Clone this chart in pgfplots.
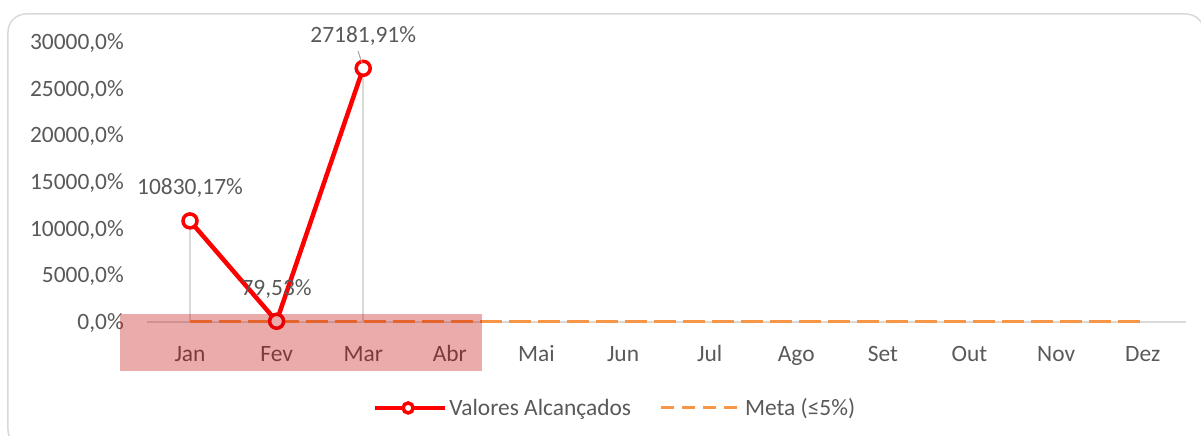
\documentclass[border=0pt]{standalone}
\usepackage{pgfplots}
\pgfplotsset{compat=1.18}
\usepackage{fontspec}
\setmainfont{Carlito}
\definecolor{txt}{HTML}{595959}
\definecolor{lgray}{HTML}{D9D9D9}
\definecolor{meta}{HTML}{F79646}
\definecolor{hl}{HTML}{C00000}
\newcommand{\cf}{\fontsize{23.5}{28}\selectfont}

\begin{document}
\begin{tikzpicture}
% frame in picture pixels (y down)
\begin{scope}[shift={(-146.7bp,322bp)},x=1bp,y=-1bp]
  \useasboundingbox (0,0) rectangle (1201,436);
  \begin{scope}
    \clip (0,0) rectangle (1201,436);
    \draw[lgray, line width=1.5bp, rounded corners=18bp] (8,14) rectangle (1204,448);
  \end{scope}
\end{scope}

\begin{axis}[
  scale only axis, width=1039.3bp, height=280bp,
  xmin=-0.5, xmax=11.5, ymin=0, ymax=30000,
  clip=false,
  scaled y ticks=false,
  axis x line*=bottom, axis y line*=left,
  x axis line style={lgray, line width=1.5bp},
  y axis line style={draw=none},
  tick style={draw=none}, major tick length=0pt,
  xtick={0,...,11},
  xticklabels={Jan,Fev,Mar,Abr,Mai,Jun,Jul,Ago,Set,Out,Nov,Dez},
  ytick={0,5000,10000,15000,20000,25000,30000},
  yticklabels={{0,0\%},{5000,0\%},{10000,0\%},{15000,0\%},{20000,0\%},{25000,0\%},{30000,0\%}},
  /pgf/number format/assume math mode=true,
  tick label style={font=\cf, text=txt},
  xticklabel style={anchor=base, inner sep=0pt, yshift=-39.5bp},
  yticklabel style={anchor=base east, inner sep=0pt, xshift=-22.7bp, yshift=-7.4bp},
  reverse legend,
  legend style={at={(0.4506,-0.307)}, anchor=center, draw=none, fill=none,
    legend columns=2, font=\cf, text=txt,
    /tikz/every even column/.append style={column sep=26bp}},
]
% drop lines
\addplot[lgray, line width=1.5bp, ycomb, no marks, forget plot]
  coordinates {(0,10830.17) (1,79.53) (2,27181.91)};
% meta
\addplot[meta, line width=3bp, dash pattern=on 22bp off 7bp, no marks,
  legend image code/.code={
    \draw[meta, line width=3bp, dash pattern=on 13bp off 8bp] (0bp,0bp) -- (81bp,0bp);}]
  coordinates {(0,5) (1,5) (2,5) (3,5) (4,5) (5,5) (6,5) (7,5) (8,5) (9,5) (10,5) (11,5)};
\addlegendentry{Meta (≤5\%)}
% values
\addplot[red, line width=4.5bp, mark=*, mark size=7bp,
  mark options={fill=white, draw=red, line width=3.5bp},
  nodes near coords, point meta=explicit symbolic,
  every node near coord/.append style={font=\cf, text=txt, anchor=base, inner sep=0pt, yshift=26bp},
  legend image code/.code={
    \draw[red, line width=4.5bp] (0bp,0bp) -- (70bp,0bp);
    \draw[red, line width=3.5bp, fill=white] (33bp,0bp) circle (5bp);}]
  coordinates {(0,10830.17) [10830,17\%] (1,79.53) [79,53\%] (2,27181.91) [27181,91\%]};
\addlegendentry{Valores Alcançados}
\end{axis}

\begin{scope}[shift={(-146.7bp,322bp)},x=1bp,y=-1bp]
  \draw[gray!70, line width=1bp] (358,51) -- (362,63);
  \fill[hl, opacity=0.33] (120,314) rectangle (482,371);
\end{scope}
\end{tikzpicture}
\end{document}
